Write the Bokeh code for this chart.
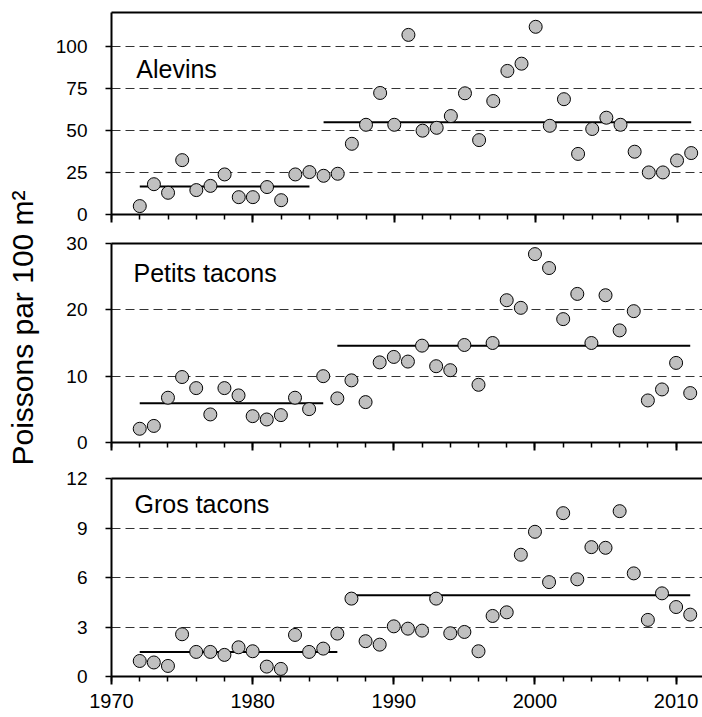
import math
from bokeh.plotting import figure
from bokeh.models import Range1d, LinearAxis, FixedTicker, SingleIntervalTicker, Label
from bokeh.layouts import row, column
from bokeh.embed import file_html
from bokeh.resources import INLINE

FONT = "Liberation Sans"

years = list(range(1972, 2012))

alevins = [5, 18, 12.9, 32.3, 14.5, 17, 23.8, 10.3, 10.3, 16.3, 8.5, 23.8, 25.2, 23, 24.2,
           42, 53.3, 72.2, 53.3, 106.7, 49.8, 51.5, 58.5, 72, 44.2, 67.4, 85.3, 89.6, 111.5,
           52.7, 68.5, 36, 50.8, 57.5, 53.3, 37.3, 25, 25, 32.1, 36.5]
petits = [2.07, 2.5, 6.75, 9.87, 8.2, 4.23, 8.2, 7.1, 3.97, 3.47, 4.13, 6.75, 5.03, 10.0, 6.65,
          9.37, 6.09, 12.08, 12.9, 12.2, 14.6, 11.5, 10.9, 14.7, 8.7, 15.0, 21.45, 20.3, 28.4,
          26.3, 18.6, 22.4, 15.0, 22.2, 16.9, 19.8, 6.34, 8.0, 12.0, 7.45]
gros = [0.94, 0.85, 0.64, 2.56, 1.49, 1.49, 1.31, 1.77, 1.53, 0.6, 0.46, 2.52, 1.49, 1.69, 2.6,
        4.72, 2.14, 1.93, 3.04, 2.9, 2.78, 4.72, 2.62, 2.7, 1.53, 3.67, 3.89, 7.38, 8.77, 5.72,
        9.9, 5.89, 7.84, 7.8, 10.02, 6.25, 3.43, 5.04, 4.21, 3.75]

# period means: start year, end year, mean
alevins_mean_start = [1972, 1985]
alevins_mean_end = [1984, 2011]
alevins_mean_val = [16.7, 54.8]
petits_mean_start = [1972, 1986]
petits_mean_end = [1985, 2011]
petits_mean_val = [5.9, 14.6]
gros_mean_start = [1972, 1987]
gros_mean_end = [1986, 2011]
gros_mean_val = [1.49, 4.92]

panel_names = ["Alevins", "Petits tacons", "Gros tacons"]
y_max = [120, 30, 12]
y_step = [25, 10, 3]
x_ticks_step = 10
y_title = "Poissons par 100 m²"

TITLE_W = 44


def make_panel(vals, ms, me, mv, ymax, ystep, name, name_x, name_y,
               show_labels, frame_left, mb_top, fh, mb_bottom):
    fw = 702 - frame_left
    p = figure(frame_width=fw, frame_height=fh,
               x_range=Range1d(1970, 2011.87), y_range=Range1d(0, ymax),
               output_backend="svg", toolbar_location=None,
               min_border_left=frame_left - TITLE_W, min_border_right=0,
               min_border_top=mb_top, min_border_bottom=mb_bottom,
               outline_line_color=None)
    # x axis
    xa = p.xaxis[0]
    xa.ticker = SingleIntervalTicker(interval=x_ticks_step, num_minor_ticks=5)
    xa.axis_line_width = 2
    xa.axis_line_color = "black"
    xa.major_tick_out = 8
    xa.major_tick_in = 0
    xa.minor_tick_out = 5
    xa.minor_tick_in = 0
    xa.major_tick_line_width = 2
    xa.minor_tick_line_width = 1.5
    xa.major_tick_line_color = "black"
    xa.minor_tick_line_color = "black"
    if show_labels:
        xa.major_label_text_font = FONT
        xa.major_label_text_font_size = "20px"
        xa.major_label_text_color = "black"
        xa.major_label_standoff = 9
    else:
        xa.major_label_text_font_size = "1px"
        xa.major_label_text_color = None
        xa.major_label_standoff = 0
    # y axis
    ya = p.yaxis[0]
    ya.ticker = SingleIntervalTicker(interval=ystep, num_minor_ticks=0)
    ya.axis_line_width = 2
    ya.axis_line_color = "black"
    ya.major_tick_out = 6
    ya.major_tick_in = 0
    ya.major_tick_line_width = 1.5
    ya.major_tick_line_color = "black"
    ya.minor_tick_line_color = None
    ya.major_label_text_font = FONT
    ya.major_label_text_font_size = "19px"
    ya.major_label_text_color = "black"
    ya.major_label_standoff = 18
    # top border as an empty axis
    top = LinearAxis(ticker=FixedTicker(ticks=[]), axis_line_width=2, axis_line_color="black",
                     major_tick_out=0, major_tick_in=0, minor_tick_out=0, minor_tick_in=0,
                     major_label_standoff=0, major_label_text_font_size="1px",
                     major_label_text_color=None)
    p.add_layout(top, "above")
    # grid
    p.xgrid.visible = False
    p.ygrid.ticker = SingleIntervalTicker(interval=ystep, num_minor_ticks=0)
    p.ygrid.grid_line_color = "#333333"
    p.ygrid.grid_line_dash = "9 5"
    p.ygrid.grid_line_width = 1
    # mean lines
    p.segment(x0=ms, y0=mv, x1=me, y1=mv, line_color="black", line_width=2)
    # points
    p.scatter(x=years, y=vals, marker="circle", size=13,
              fill_color="#c0c0c0", line_color="black", line_width=1)
    p.add_layout(Label(x=name_x, y=name_y, text=name, text_font=FONT,
                       text_font_size="25px", text_color="black"))
    return p


p1 = make_panel(alevins, alevins_mean_start, alevins_mean_end, alevins_mean_val,
                y_max[0], y_step[0], panel_names[0], 1971.75, 77.9,
                False, 110, 12, 202, 14)
p2 = make_panel(petits, petits_mean_start, petits_mean_end, petits_mean_val,
                y_max[1], y_step[1], panel_names[1], 1971.56, 23.5,
                False, 111, 15, 199, 18)
p3 = make_panel(gros, gros_mean_start, gros_mean_end, gros_mean_val,
                y_max[2], y_step[2], panel_names[2], 1971.63, 9.6,
                True, 111, 18, 198, 40)

tf = figure(width=TITLE_W, height=716, x_range=Range1d(0, TITLE_W), y_range=Range1d(716, 0),
            output_backend="svg", toolbar_location=None, min_border=0,
            x_axis_location=None, y_axis_location=None, outline_line_color=None)
tf.grid.visible = False
tf.add_layout(Label(x=38.9, y=327.5, text=y_title, angle=math.pi / 2,
                    text_align="center", text_baseline="bottom",
                    text_font=FONT, text_font_size="30px", text_color="black"))

layout = row(tf, column(p1, p2, p3, spacing=0), spacing=0)

open("out.html", "w").write(file_html(layout, INLINE))
